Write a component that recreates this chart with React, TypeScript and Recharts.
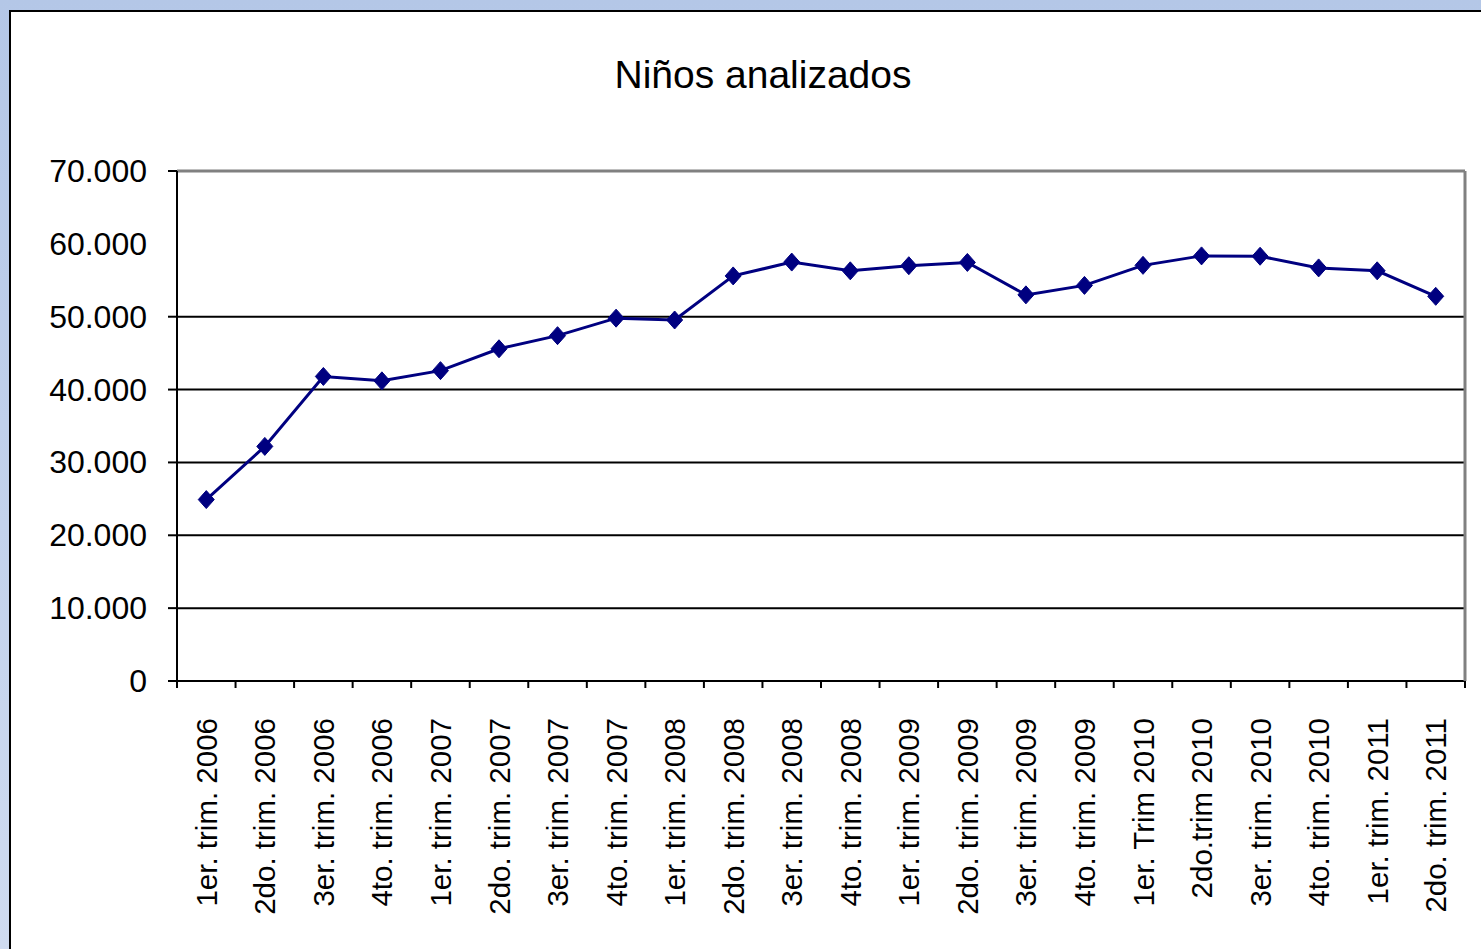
import React from 'react';
import { LineChart, Line, XAxis, YAxis, ReferenceLine } from 'recharts';

const categories = [
  '1er. trim. 2006', '2do. trim. 2006', '3er. trim. 2006', '4to. trim. 2006',
  '1er. trim. 2007', '2do. trim. 2007', '3er. trim. 2007', '4to. trim. 2007',
  '1er. trim. 2008', '2do. trim. 2008', '3er. trim. 2008', '4to. trim. 2008',
  '1er. trim. 2009', '2do. trim. 2009', '3er. trim. 2009', '4to. trim. 2009',
  '1er. Trim 2010', '2do.trim 2010', '3er. trim. 2010', '4to. trim. 2010',
  '1er. trim. 2011', '2do. trim. 2011',
];

const values = [
  24900, 32200, 41800, 41200,
  42600, 45600, 47400, 49800,
  49550, 55600, 57500, 56300,
  57000, 57450, 53000, 54300,
  57050, 58350, 58300, 56700,
  56300, 52800,
];

const yTicks = [0, 10000, 20000, 30000, 40000, 50000, 60000, 70000];
const gridValues = [10000, 20000, 30000, 40000, 50000];
const tickMarkValues = [0, 10000, 20000, 30000, 40000, 50000, 70000];

const data = categories.map((name, i) => ({ name, value: values[i] }));

const FONT = '"Liberation Sans", Arial, sans-serif';

const fmt = (v: number) => String(v).replace(/\B(?=(\d{3})+(?!\d))/g, '.');

const XTick = (props: any) => {
  const { x, y, payload, index, visibleTicksCount } = props;
  const half = payload && typeof payload.offset === 'number' && payload.offset > 0 ? payload.offset : 29.27;
  const ty = y + 37;
  const isLast = index === (visibleTicksCount ?? categories.length) - 1;
  return (
    <g>
      <line x1={x - half} y1={y} x2={x - half} y2={y + 7} stroke="#000" strokeWidth={2} />
      {isLast && <line x1={x + half} y1={y} x2={x + half} y2={y + 7} stroke="#000" strokeWidth={2} />}
      <text
        x={x}
        y={ty}
        transform={`rotate(-90 ${x} ${ty})`}
        textAnchor="end"
        dominantBaseline="central"
        fontSize={29.5}
        fontFamily={FONT}
        fill="#000"
      >
        {payload.value}
      </text>
    </g>
  );
};

const YTick = (props: any) => {
  const { x, y, payload } = props;
  const v = payload.value;
  return (
    <g>
      {tickMarkValues.includes(v) && (
        <line x1={x - 9} y1={y} x2={x} y2={y} stroke="#000" strokeWidth={2} />
      )}
      <text
        x={x - 30}
        y={y}
        textAnchor="end"
        dominantBaseline="central"
        fontSize={32}
        fontFamily={FONT}
        fill="#000"
      >
        {fmt(v)}
      </text>
    </g>
  );
};

const Diamond = (props: any) => {
  const { cx, cy } = props;
  if (cx == null || cy == null) return null;
  const w = 8;
  const h = 9;
  return (
    <polygon
      points={`${cx},${cy - h} ${cx + w},${cy} ${cx},${cy + h} ${cx - w},${cy}`}
      fill="#000080"
      stroke="#000080"
      strokeWidth={1}
    />
  );
};

export default function App() {
  return (
    <div
      style={{
        position: 'fixed',
        left: 0,
        top: 0,
        width: 1481,
        height: 949,
        overflow: 'hidden',
        background: 'linear-gradient(to bottom, #B4C7E7, #CFDBF0)',
      }}
    >
      <div
        style={{
          position: 'absolute',
          left: 9,
          top: 10,
          width: 1600,
          height: 1100,
          background: '#fff',
          borderTop: '2px solid #000',
          borderLeft: '2px solid #000',
          boxSizing: 'border-box',
        }}
      />
      <div
        style={{
          position: 'absolute',
          left: 0,
          top: 55,
          width: 1526,
          textAlign: 'center',
          fontFamily: FONT,
          fontSize: 39,
          lineHeight: '39px',
          color: '#000',
        }}
      >
        Niños analizados
      </div>
      <div style={{ position: 'absolute', left: 0, top: 0 }}>
        <LineChart
          width={1481}
          height={949}
          data={data}
          margin={{ top: 171, right: 15, bottom: 28, left: 17 }}
        >
          <XAxis
            dataKey="name"
            scale="band"
            height={240}
            interval={0}
            tickLine={false}
            tickSize={0}
            tickMargin={0}
            axisLine={{ stroke: '#000', strokeWidth: 2 }}
            tick={<XTick />}
          />
          <YAxis
            width={160}
            domain={[0, 70000]}
            ticks={yTicks}
            interval={0}
            tickSize={0}
            tickMargin={0}
            tickLine={false}
            axisLine={{ stroke: '#000', strokeWidth: 2 }}
            tick={<YTick />}
          />
          <YAxis
            yAxisId="r"
            orientation="right"
            width={1}
            domain={[0, 70000]}
            tick={false}
            tickLine={false}
            axisLine={{ stroke: '#808080', strokeWidth: 3 }}
          />
          <ReferenceLine y={70000} stroke="#808080" strokeWidth={3} />
          {gridValues.map((v) => (
            <ReferenceLine key={v} y={v} stroke="#000" strokeWidth={2} />
          ))}
          <Line
            dataKey="value"
            stroke="#000080"
            strokeWidth={3}
            dot={<Diamond />}
            activeDot={false}
            isAnimationActive={false}
          />
        </LineChart>
      </div>
    </div>
  );
}
